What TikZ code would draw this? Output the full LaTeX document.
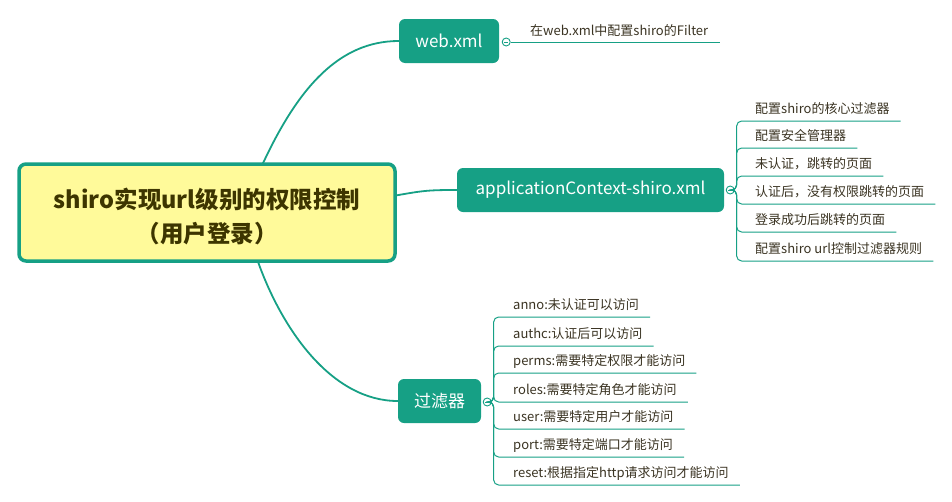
\documentclass[tikz,border=0pt]{standalone}
\usepackage{fontspec}
\setmainfont{Noto Sans CJK SC}
\usetikzlibrary{calc}
\definecolor{tealc}{HTML}{16A085}
\definecolor{yell}{HTML}{FFFA9A}
\definecolor{ctrtext}{HTML}{3D3500}
\definecolor{leafc}{HTML}{3A3322}
\tikzset{
  central/.style={draw=tealc, fill=yell, line width=3.5pt, rounded corners=7pt,
    minimum width=376pt, minimum height=97pt, align=center, text=ctrtext,
    font=\bfseries\fontsize{23.5}{34}\selectfont, inner sep=0pt},
  topic/.style={fill=tealc, rounded corners=6pt, text=white, minimum height=44pt,
    inner sep=0pt, font=\fontsize{17}{17}\selectfont},
  leaf/.style={anchor=base west, inner sep=0pt, text=leafc, font=\fontsize{13}{13}\selectfont},
  branch/.style={draw=tealc, line width=1.8pt},
  leafline/.style={draw=tealc, line width=1pt, rounded corners=5pt},
  knob/.style={circle, draw=tealc, fill=white, line width=0.9pt, minimum size=8pt, inner sep=0pt,
    path picture={\draw[tealc, line width=0.8pt]
      ([xshift=-2.2pt]path picture bounding box.center) -- ([xshift=2.2pt]path picture bounding box.center);}}
}
\begin{document}
\begin{tikzpicture}[x=1pt,y=-1pt]
\useasboundingbox (0,0) rectangle (952,501);
% central
\node[central] (ctr) at (207,212.5) {\rule{0pt}{29pt}shiro实现url级别的权限控制\\（用户登录）};
% topics
\node[topic, minimum width=100pt] (web) at (449,41) {web.xml};
\node[topic, minimum width=267pt] (app) at (590.5,190) {applicationContext-shiro.xml};
\node[topic, minimum width=83pt] (flt) at (439.5,401) {过滤器};
% branches
\draw[branch] ($(ctr.north)+(56,1)$) .. controls +(35,-75) and +(-60,0) .. (web.west);
\draw[branch] ($(ctr.east)+(-1,-17)$) .. controls +(28,-5) and +(-28,0) .. (app.west);
\draw[branch] ($(ctr.south)+(51,-1)$) .. controls +(25,70) and +(-65,0) .. (flt.west);
% knobs
\node[knob] (k1) at ($(web.east)+(7,1)$) {};
\node[knob] (k2) at ($(app.east)+(6,0)$) {};
\node[knob] (k3) at ($(flt.east)+(6,1)$) {};
% web leaf
\node[leaf] (w1) at (530,35) {在web.xml中配置shiro的Filter};
\draw[leafline] (k1.east) -- ($(w1.base east)+(12,7)$);
% app leaves
\node[leaf] (a1) at (755,113) {配置shiro的核心过滤器};
\node[leaf] (a2) at (755,140) {配置安全管理器};
\node[leaf] (a3) at (755,168) {未认证，跳转的页面};
\node[leaf] (a4) at (755,196) {认证后，没有权限跳转的页面};
\node[leaf] (a5) at (755,224) {登录成功后跳转的页面};
\node[leaf] (a6) at (755,253) {配置shiro url控制过滤器规则};
\foreach \n in {a1,a2,a3,a4,a5,a6}{
  \draw[leafline] (k2.east) -- ++(2,0) |- ($(\n.base east)+(11,8)$);
}
% filter leaves
\node[leaf] (f1) at (513,309) {anno:未认证可以访问};
\node[leaf] (f2) at (513,338) {authc:认证后可以访问};
\node[leaf] (f3) at (513,365) {perms:需要特定权限才能访问};
\node[leaf] (f4) at (513,394) {roles:需要特定角色才能访问};
\node[leaf] (f5) at (513,421) {user:需要特定用户才能访问};
\node[leaf] (f6) at (513,449) {port:需要特定端口才能访问};
\node[leaf] (f7) at (513,477) {reset:根据指定http请求访问才能访问};
\foreach \n in {f1,f2,f3,f4,f5,f6,f7}{
  \draw[leafline] (k3.east) -- ++(2,0) |- ($(\n.base east)+(11,8)$);
}
\end{tikzpicture}
\end{document}
